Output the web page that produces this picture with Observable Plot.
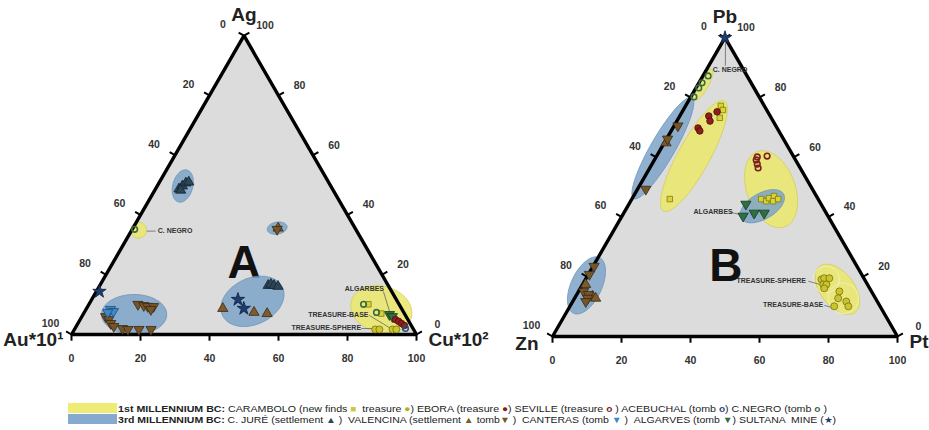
<!DOCTYPE html>
<html><head><meta charset="utf-8">
<script src="https://cdn.jsdelivr.net/npm/d3@7"></script>
<script src="https://cdn.jsdelivr.net/npm/@observablehq/plot@0.6"></script>
<style>
body{margin:0;background:#fff;font-family:"Liberation Sans",Arial,sans-serif;}
#chart svg{display:block}
.legend{position:relative;width:929px;height:32px;font-size:9.5px;color:#222;}
.row{position:absolute;left:68px;height:10px;display:flex;align-items:center;white-space:nowrap}
.sw{width:49px;height:10px;flex:none}
.txt{display:inline-block;transform-origin:left center;padding-left:1px}
.s{font-size:9px}
</style></head><body>
<div id="chart"></div>
<div class="legend">
  <div class="row" style="top:5px"><div class="sw" style="background:#eeec74"></div><span class="txt" id="t1"><b>1st MILLENNIUM BC:</b> CARAMBOLO (new finds <span class="s" style="color:#cfc83a">■</span>&nbsp; treasure <span class="s" style="color:#b3ad25">●</span>) EBORA (treasure <span class="s" style="color:#8c1c1c">●</span>) SEVILLE (treasure <b class="s" style="color:#7c1f1f">o</b> ) ACEBUCHAL (tomb <b class="s" style="color:#2a4e78">o</b>) C.NEGRO (tomb <b class="s" style="color:#3b6b44">o</b> )</span></div>
  <div class="row" style="top:16px"><div class="sw" style="background:#86aacf"></div><span class="txt" id="t2"><b>3rd MILLENNIUM BC:</b> C. JURÉ (settlement <span class="s" style="color:#2c4656">▲</span> ) &nbsp;VALENCINA (settlement <span class="s" style="color:#7d5b2c">▲</span> tomb<span class="s" style="color:#76542a">▼</span> ) &nbsp;CANTERAS (tomb <span class="s" style="color:#3d88c8">▼</span> ) &nbsp;ALGARVES (tomb <span class="s" style="color:#2f7040">▼</span>) SULTANA &nbsp;MINE (<span class="s" style="color:#1f3c70">★</span>)</span></div>
</div>
<script>
// ---------- tick labels ----------
const tickValues = [0, 20, 40, 60, 80, 100];

// ---------- Panel A : compositions [Au*10¹, Ag, Cu*10²] (%) ----------
const vertexNamesA = ["Au*10¹", "Ag", "Cu*10²"];
const cjureSettlementA = [[44.5,48.7,6.8],[43.0,49.7,7.3],[41.5,50.7,7.8],[40.5,51.0,8.5],[44.2,48.3,7.5],
  [34.8,16.4,48.8],[33.8,16.8,49.4],[33.1,16.4,50.5],[32.1,16.1,51.8]];
const valencinaSettlementA = [[22.3,35.6,42.1],[51.8,8.7,39.5],[43.4,7.4,49.2],[39.8,7.0,53.2]];
const valencinaTombA = [[22.8,35.2,42.0],[75.7,10.1,14.2],[74.2,9.7,16.1],[73.2,9.4,17.4],[71.5,9.4,19.1],[72.8,8.4,18.8],
  [87.1,6.0,6.9],[86.7,5.0,8.3],[86.8,3.7,9.5],[86.4,2.7,10.9],[84.2,2.0,13.8],[82.8,1.7,15.5],[79.6,1.7,18.7],[76.1,1.7,22.2]];
const canterasA = [[84.5,8.4,7.1],[84.0,7.7,8.3],[85.8,7.4,6.8]];
const algarvesA = [[4.5,6.7,88.8],[4.0,6.0,90.0]];
const sultanaA = [[45.9,11.7,42.4],[45.7,8.7,45.6],[84.7,14.4,0.9]];
const caramboloNewA = [[8.9,10.1,81.0],[6.7,7.0,86.3]];
const caramboloTreasureA = [[11.1,1.7,87.2],[9.9,1.7,88.4],[6.1,1.7,92.2],[5.0,1.7,93.3]];
const eboraA = [[3.6,5.0,91.4],[3.0,4.4,92.6],[2.5,3.7,93.8],[2.0,3.0,95.0]];
const acebuchalA = [[2.2,2.0,95.8]];
const cnegroA = [[64.1,35.2,0.7],[10.3,10.1,79.6],[7.9,7.4,84.7]];

// ---------- Panel B : compositions [Zn, Pb, Pt] (%) ----------
const vertexNamesB = ["Zn", "Pb", "Pt"];
const sultanaB = [[0,100,0]];
const cnegroB = [[11.3,87.2,1.5],[14.2,84.9,0.9],[16.0,83.2,0.8],[18.9,80.2,0.9]];
const valencinaTombB = [[28.4,70.5,1.1],[33.6,66.1,0.3],[48.3,49.3,2.4],[76.2,23.5,0.3],[78.9,20.8,0.3],
  [83.4,15.1,1.5],[82.5,14.1,3.4],[83.4,12.8,3.8],[84.5,11.7,3.8]];
const valencinaSettlementB = [[34.7,64.8,0.5],[81.7,17.4,0.9],[81.7,13.4,4.9],[81.1,12.8,6.1]];
const eboraB = [[22.9,69.8,7.3],[22.9,68.8,8.3],[17.8,73.8,8.4],[18.3,72.1,9.6],[14.7,75.2,10.1]];
const caramboloNewB = [[12.6,77.2,10.2],[14.9,73.2,11.9],[12.7,75.8,11.5],[43.0,46.0,11.0],
  [16.5,46.0,37.5],[15.4,45.3,39.3],[14.1,46.3,39.6],[12.3,47.0,40.7],[13.4,45.3,41.3],[11.6,46.0,42.4]];
const sevilleB = [[10.6,60.1,29.3],[11.4,59.1,29.5],[11.8,57.7,30.5],[12.2,56.4,31.4],[7.6,60.4,32.0]];
const algarvesB = [[21.8,44.3,33.9],[20.9,41.3,37.8],[18.0,41.3,40.7],[24.6,40.3,35.1]];
const caramboloTreasureB = [[12.5,19.1,68.4],[11.5,19.5,69.0],[10.0,19.5,70.5],[12.8,17.4,69.8],[11.9,17.4,70.7],[13.2,16.1,70.7],
  [9.3,15.1,75.6],[10.8,12.8,76.4],[9.0,11.7,79.3],[9.2,10.1,80.7],[13.3,10.1,76.6]];

// ---------- groups (ellipses): centre composition, semi-axes (% of side), angle ----------
const groupsA = [
  {kind:"1st", c:[63.1,34.9,2.0], a:2.3, b:2.3, ang:0},
  {kind:"1st", c:[6.0,8.4,85.6], a:9.0, b:6.7, ang:-15},
  {kind:"3rd", c:[42.9,49.7,7.4], a:4.8, b:2.9, ang:75},
  {kind:"3rd", c:[22.6,35.6,41.8], a:2.9, b:1.75, ang:10},
  {kind:"3rd", c:[78.5,6.7,14.8], a:9.45, b:5.8, ang:0},
  {kind:"3rd", c:[42.0,11.1,46.9], a:9.6, b:6.7, ang:25}
];
const groupsB = [
  {kind:"1st", c:[14.3,84.2,1.5], a:5.2, b:1.5, ang:60},
  {kind:"1st", c:[28.8,60.4,10.8], a:18.2, b:4.6, ang:61},
  {kind:"1st", c:[12.0,49.3,38.7], a:11.6, b:7.0, ang:-70},
  {kind:"1st", c:[9.5,15.8,74.7], a:8.4, b:4.9, ang:-52},
  {kind:"3rd", c:[36.5,63.1,0.45], a:16.9, b:3.5, ang:60},
  {kind:"3rd", c:[17.4,43.6,39.0], a:7.1, b:3.75, ang:30},
  {kind:"3rd", c:[81.6,17.1,1.3], a:8.9, b:4.45, ang:65}
];
const subGroupsB = [{c:[11.1,19.1,69.8], a:3.8, b:3.8, ang:0},{c:[9.3,12.8,77.9], a:4.4, b:4.4, ang:0}];

// ---------- annotations ----------
const notesA = [
  {text:"C. NEGRO", at:[57.7,34.6,7.7], anchor:"start", from:[60.9,34.6,4.5], to:[58.3,34.6,7.1]},
  {text:"ALGARBES", at:[7.4,15.4,77.2], anchor:"middle", from:[2.4,14.4,83.2], to:[4.1,7.0,88.9]},
  {text:"TREASURE-BASE", at:[19.3,6.7,74.0], anchor:"middle", from:[10.5,6.4,83.1], to:[6.7,2.3,91.0]},
  {text:"TREASURE-SPHERE", at:[25.0,2.3,72.7], anchor:"middle", from:[15.0,2.0,83.0], to:[11.5,2.0,86.5]}
];
const notesB = [
  {text:"C. NEGRO", at:[8.9,89.3,1.8], anchor:"start", from:[0.2,99.3,0.5], to:[4.6,90.6,4.8]},
  {text:"ALGARBES", at:[32.5,41.9,25.6], anchor:"middle", from:[27.7,41.6,30.7], to:[24.5,40.6,34.9]},
  {text:"TREASURE-SPHERE", at:[27.2,18.8,54.0], anchor:"middle", from:[16.6,18.5,64.9], to:[13.7,17.4,68.9]},
  {text:"TREASURE-BASE", at:[24.9,10.7,64.4], anchor:"middle", from:[16.0,10.4,73.6], to:[13.3,9.4,77.3]}
];
const panelLetters = [{panel:"A", c:[38.1,23.8,38.1]},{panel:"B", c:[38.0,23.5,38.5]}];

// ---------- layout ----------
const W = 929, H = 398, k = 3.45;
const panels = {A:{ox:0, oy:0}, B:{ox:(552-71)/k, oy:-2/k}};
const S3 = Math.sqrt(3)/2;
function tern(p, c) {
  const s = c[0] + c[1] + c[2];
  const top = 100*c[1]/s, right = 100*c[2]/s;
  return {u: panels[p].ox + right + top/2, v: panels[p].oy + top*S3};
}

const triDown = {draw(ctx, size){ const y = -Math.sqrt(size/(Math.sqrt(3)*3)); const r3 = Math.sqrt(3);
  ctx.moveTo(0,-2*y); ctx.lineTo(-r3*y, y); ctx.lineTo(r3*y, y); ctx.closePath(); }};

const series = [
  {A:cjureSettlementA, B:[], symbol:"triangle", fill:"#2c4656", stroke:"#16242e", r:3.8},
  {A:valencinaSettlementA, B:valencinaSettlementB, symbol:"triangle", fill:"#7d5b2c", stroke:"#3d2a10", r:3.8},
  {A:valencinaTombA, B:valencinaTombB, symbol:triDown, fill:"#76542a", stroke:"#3a2810", r:3.8},
  {A:canterasA, B:[], symbol:triDown, fill:"#3d88c8", stroke:"#1f4f7a", r:3.8},
  {A:algarvesA, B:algarvesB, symbol:triDown, fill:"#2f7040", stroke:"#17381f", r:3.8},
  {A:sultanaA, B:sultanaB, symbol:"star", fill:"#1f3c70", stroke:"#0f1f3a", r:4.2},
  {A:caramboloNewA, B:caramboloNewB, symbol:"square", fill:"#d9d336", stroke:"#7f7a14", r:3.1},
  {A:caramboloTreasureA, B:caramboloTreasureB, symbol:"circle", fill:"#cbc42a", stroke:"#77721a", r:3.5},
  {A:eboraA, B:eboraB, symbol:"circle", fill:"#901e1e", stroke:"#4a0c0c", r:3.3},
  {A:[], B:sevilleB, symbol:"circle", fill:"none", stroke:"#7c1f1f", r:2.8, sw:1.6},
  {A:acebuchalA, B:[], symbol:"circle", fill:"none", stroke:"#2a4e78", r:2.8, sw:1.6},
  {A:cnegroA, B:cnegroB, symbol:"circle", fill:"none", stroke:"#3b6b44", r:2.8, sw:1.6}
];

function ellipseRows(p, g, id) {
  const c = tern(p, g.c), th = g.ang*Math.PI/180, rows = [];
  for (let i = 0; i < 72; i++) {
    const t = 2*Math.PI*i/72;
    rows.push({id, kind:g.kind,
      u: c.u + g.a*Math.cos(th)*Math.cos(t) - g.b*Math.sin(th)*Math.sin(t),
      v: c.v + g.a*Math.sin(th)*Math.cos(t) + g.b*Math.cos(th)*Math.sin(t)});
  }
  return rows;
}
const ellipses = [
  ...groupsA.flatMap((g,i)=>ellipseRows("A", g, "A"+i)),
  ...groupsB.flatMap((g,i)=>ellipseRows("B", g, "B"+i))
];
const yellowE = ellipses.filter(d=>d.kind==="1st");
const blueE = ellipses.filter(d=>d.kind==="3rd");
const subE = subGroupsB.flatMap((g,i)=>ellipseRows("B", g, "S"+i));

const triRows = ["A","B"].flatMap(p => [[100,0,0],[0,100,0],[0,0,100]].map(c => ({panel:p, ...tern(p,c)})));

// ticks
const tickLen = 1.8;
const edges = [
  {name:"left", comp:t=>[t,100-t,0], dir:[-S3,0.5], dx:-21, dy:-11},
  {name:"right", comp:t=>[0,t,100-t], dir:[S3,0.5], dx:21, dy:-10},
  {name:"bottom", comp:t=>[100-t,0,t], dir:[0,-1], dx:0, dy:24}
];
const tickRows = [];
for (const p of ["A","B"]) for (const e of edges) for (const t of tickValues) {
  const q = tern(p, e.comp(t));
  tickRows.push({edge:e.name, label:String(t), u:q.u, v:q.v, u2:q.u + tickLen*e.dir[0], v2:q.v + tickLen*e.dir[1]});
}

const vertexRows = [];
for (const [p, names] of [["A", vertexNamesA], ["B", vertexNamesB]]) {
  [[100,0,0],[0,100,0],[0,0,100]].forEach((c,i) => vertexRows.push({pos:["l","t","r"][i], panel:p, name:names[i], ...tern(p,c)}));
}

const noteRows = [...notesA.map(n=>({p:"A",...n})), ...notesB.map(n=>({p:"B",...n}))].map(n => {
  const a = tern(n.p, n.at), f = tern(n.p, n.from), t = tern(n.p, n.to);
  return {text:n.text, anchor:n.anchor, u:a.u, v:a.v, u1:f.u, v1:f.v, u2:t.u, v2:t.v};
});
const letterRows = panelLetters.map(d => ({text:d.panel, ...tern(d.panel, d.c)}));

const font = "Liberation Sans, Arial, sans-serif";
const marks = [
  Plot.line(triRows, {x:"u", y:"v", z:"panel", fill:"#dcdcdc", stroke:"none", curve:"linear-closed"}),
  Plot.text(letterRows, {x:"u", y:"v", text:"text", fontSize:46, fontWeight:"bold", fill:"#111", lineAnchor:"middle"}),
  Plot.line(yellowE, {x:"u", y:"v", z:"id", fill:"#ebe86a", fillOpacity:0.85, stroke:"#d2cf55", strokeWidth:0.8, curve:"linear-closed"}),
  Plot.line(blueE, {x:"u", y:"v", z:"id", fill:"#7ea3c8", fillOpacity:0.85, stroke:"#6b93bb", strokeWidth:0.8, curve:"linear-closed"}),
  Plot.line(subE, {x:"u", y:"v", z:"id", fill:"none", stroke:"#f3f1b8", strokeWidth:0.9, curve:"linear-closed"}),
  Plot.line(triRows, {x:"u", y:"v", z:"panel", fill:"none", stroke:"#000", strokeWidth:3.4, strokeLinejoin:"miter", curve:"linear-closed"}),
  Plot.link(tickRows, {x1:"u", y1:"v", x2:"u2", y2:"v2", stroke:"#000", strokeWidth:2}),
  ...edges.map(e => Plot.text(tickRows.filter(d=>d.edge===e.name), {x:"u", y:"v", text:"label", dx:e.dx, dy:e.dy, fontSize:10.5, fontWeight:"bold", fill:"#333", lineAnchor:"middle"})),
  Plot.text(vertexRows.filter(d=>d.pos==="t"), {x:"u", y:"v", text:"name", dy:-21, fontSize:19, fontWeight:"bold", fill:"#222", lineAnchor:"middle"}),
  Plot.text(vertexRows.filter(d=>d.pos==="l" && d.panel==="A"), {x:"u", y:"v", text:"name", dx:-8, dy:5, textAnchor:"end", fontSize:19, fontWeight:"bold", fill:"#222", lineAnchor:"middle"}),
  Plot.text(vertexRows.filter(d=>d.pos==="l" && d.panel==="B"), {x:"u", y:"v", text:"name", dx:-14, dy:7, textAnchor:"end", fontSize:19, fontWeight:"bold", fill:"#222", lineAnchor:"middle"}),
  Plot.text(vertexRows.filter(d=>d.pos==="r"), {x:"u", y:"v", text:"name", dx:12, dy:5, textAnchor:"start", fontSize:19, fontWeight:"bold", fill:"#222", lineAnchor:"middle"}),
  Plot.link(noteRows, {x1:"u1", y1:"v1", x2:"u2", y2:"v2", stroke:"#555", strokeWidth:0.7}),
  ...series.map(s => Plot.dot([...s.A.map(c=>tern("A",c)), ...s.B.map(c=>tern("B",c))],
     {x:"u", y:"v", symbol:s.symbol, r:s.r, fill:s.fill, stroke:s.stroke, strokeWidth:s.sw ?? 0.8})),
  Plot.text(noteRows.filter(d=>d.anchor==="start"), {x:"u", y:"v", text:"text", textAnchor:"start", fontSize:7, fontWeight:"bold", fill:"#333", lineAnchor:"middle"}),
  Plot.text(noteRows.filter(d=>d.anchor==="middle"), {x:"u", y:"v", text:"text", textAnchor:"middle", fontSize:7, fontWeight:"bold", fill:"#333", lineAnchor:"middle"})
];

const chart = Plot.plot({
  width: W, height: H, margin: 0,
  style: {fontFamily: font, background: "#fff"},
  x: {domain: [-71/k, (W-71)/k], range: [0, W], axis: null},
  y: {domain: [(334-H)/k, 334/k], range: [H, 0], axis: null},
  marks
});
document.getElementById("chart").append(chart);

// fit legend rows to the reference widths
for (const [id, target] of [["t1", 710], ["t2", 719]]) {
  const el = document.getElementById(id);
  const w = el.getBoundingClientRect().width;
  el.style.transform = `scaleX(${target / w})`;
}
</script>
</body></html>
